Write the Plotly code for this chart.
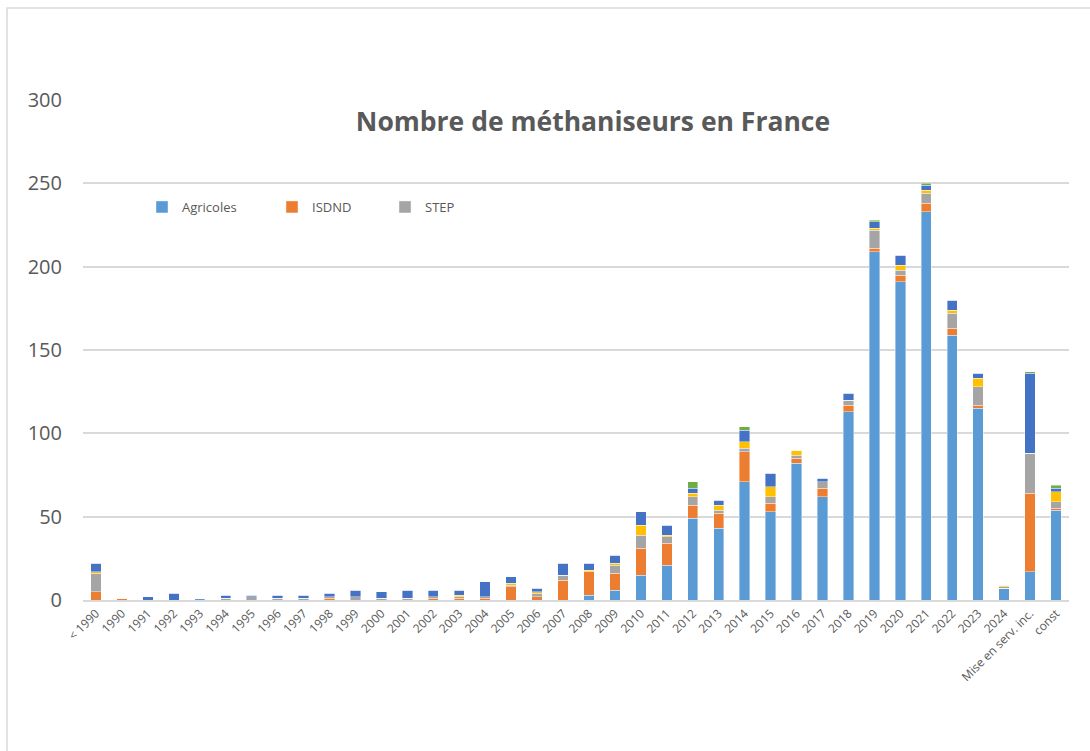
import plotly.graph_objects as go

categories = ["< 1990"] + [str(y) for y in range(1990, 2025)] + ["Mise en serv. inc.", "const"]

agricoles = [0, 0, 0, 0, 1, 0, 0, 0, 0, 0, 0, 0, 0, 0, 0, 0, 0, 0, 0, 3, 6, 15, 21, 49, 43, 71, 53, 82, 62, 113, 209, 191, 233, 159, 115, 7, 17, 54]
isdnd     = [5, 1, 0, 0, 0, 0, 0, 0, 0, 1, 0, 0, 0, 1, 1, 1, 8, 2, 12, 14, 10, 16, 13, 8, 9, 18, 5, 3, 5, 4, 2, 4, 5, 4, 2, 0, 47, 1]
step      = [11, 0, 0, 0, 0, 1, 2, 1, 1, 1, 2, 1, 1, 1, 1, 1, 1, 2, 3, 0, 5, 8, 4, 5, 2, 2, 4, 2, 4, 3, 11, 3, 6, 9, 11, 1, 24, 4]
jaune     = [1, 0, 0, 0, 0, 0, 0, 0, 0, 0, 0, 0, 0, 0, 1, 0, 1, 1, 0, 1, 1, 6, 1, 2, 3, 4, 6, 3, 0, 0, 1, 3, 2, 2, 5, 1, 0, 6]
bleu      = [5, 0, 2, 4, 0, 2, 1, 2, 2, 2, 4, 4, 5, 4, 3, 9, 4, 2, 7, 4, 5, 8, 6, 3, 3, 7, 8, 0, 2, 4, 4, 6, 3, 6, 3, 0, 48, 2]
vert      = [0, 0, 0, 0, 0, 0, 0, 0, 0, 0, 0, 0, 0, 0, 0, 0, 0, 0, 0, 0, 0, 0, 0, 4, 0, 2, 0, 0, 0, 0, 1, 0, 1, 0, 0, 0, 1, 2]

series = [
    ("Agricoles", agricoles, "#5B9BD5", True, "legend"),
    ("ISDND", isdnd, "#ED7D31", True, "legend2"),
    ("STEP", step, "#A5A5A5", True, "legend3"),
    ("Industriels", jaune, "#FFC000", False, "legend"),
    ("Territoriaux", bleu, "#4472C4", False, "legend"),
    ("Autres", vert, "#70AD47", False, "legend"),
]

grey_txt = "#595959"
grid = "#D9D9D9"

fig = go.Figure()
for name, vals, color, show, lg in series:
    fig.add_trace(go.Bar(
        x=categories, y=vals, name=name,
        marker=dict(color=color, line=dict(color="rgba(255,255,255,0.8)", width=0.5)),
        showlegend=show, legend=lg,
    ))

W, H = 1090, 751
L, R, T, B = 83, 21, 100, 151
pw = W - L - R
ph = H - T - B

def px_x(x):
    return (x - L) / pw

def px_y(y):
    return (H - B - y) / ph

leg_common = dict(orientation="h", yanchor="middle", xanchor="left",
                  font=dict(family="Open Sans", size=13, color=grey_txt),
                  bgcolor="rgba(0,0,0,0)", itemwidth=30)

fig.update_layout(
    barmode="stack",
    bargap=0.6,
    width=W, height=H,
    margin=dict(l=L, r=R, t=T, b=B),
    plot_bgcolor="white", paper_bgcolor="white",
    font=dict(family="Open Sans", color=grey_txt),
    title=dict(text="<b>Nombre de méthaniseurs en France</b>",
               x=px_x(593), xref="paper", xanchor="center",
               y=1 - 122 / H, yref="container", yanchor="middle",
               font=dict(family="Open Sans", size=26.5, color=grey_txt)),
    legend=dict(x=px_x(142), y=px_y(207), **leg_common),
    legend2=dict(x=px_x(272), y=px_y(207), **leg_common),
    legend3=dict(x=px_x(385), y=px_y(207), **leg_common),
    xaxis=dict(type="category", tickangle=-45, tickfont=dict(size=12, color=grey_txt),
               showgrid=False, showline=True, linecolor=grid, linewidth=1.5, ticks=""),
    yaxis=dict(range=[0, 300], dtick=50, showgrid=True, gridcolor=grid, gridwidth=1.5,
               zeroline=False, showline=False, ticks="",
               tickfont=dict(size=20, color=grey_txt), ticklabelstandoff=20),
    shapes=[dict(type="rect", xref="paper", yref="paper",
                 x0=px_x(7), x1=px_x(1100), y0=px_y(770), y1=px_y(8),
                 line=dict(color=grid, width=1.5), fillcolor="rgba(0,0,0,0)", layer="below")],
)

fig.write_html("out.html", config={"displayModeBar": False},
               post_script="document.body.style.margin='0';")
